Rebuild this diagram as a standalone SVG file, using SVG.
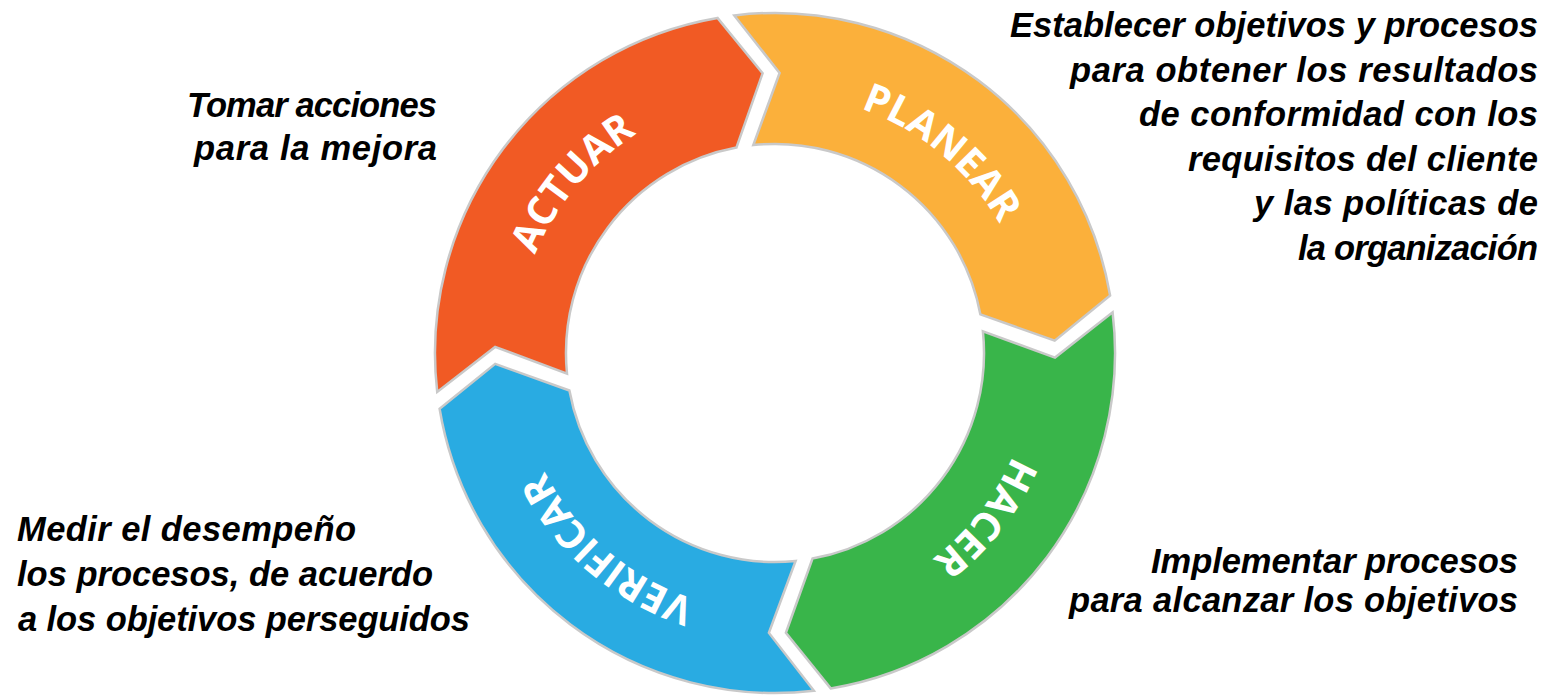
<svg xmlns="http://www.w3.org/2000/svg" width="1550" height="697" viewBox="0 0 1550 697">
<style>
.seg{stroke:#c9c9c9;stroke-width:2.5;stroke-linejoin:miter}
.lbl{font-family:"Open Sans","DejaVu Sans",sans-serif;font-weight:700;font-size:40px;fill:#ffffff}
.desc{font-family:"Liberation Sans",Arial,sans-serif;font-weight:700;font-style:italic;font-size:34.5px;fill:#000000}
.r{text-anchor:end}
</style>
<defs>
<path id="pActuar" d="M516.9,375.6 A259,259 0 0 1 752.4,95"/>
<path id="pPlanear" d="M751.1,95.1 A259,259 0 0 1 1032.9,329.1"/>
<path id="pHacer" d="M1032.1,321.4 A259,259 0 0 1 806.6,610.1"/>
<path id="pVerificar" d="M795.8,611.2 A259,259 0 0 1 516.8,373.8"/>
</defs>
<rect width="1550" height="697" fill="#ffffff"/>
<g id="connectors"></g>
<g id="actuar">
<path class="seg" fill="#F15A24" d="M437.2,391.9 A340,340 0 0 1 717.5,17.9 L762.6,73.3 L736.4,147.6 A209,209 0 0 0 567,373.6 L495.1,346.9 Z"/>
<text class="lbl"><textPath href="#pActuar" startOffset="50%" text-anchor="middle">ACTUAR</textPath></text>
</g>
<g id="planear">
<path class="seg" fill="#FBB03B" d="M734.3,15.4 A340,340 0 0 1 1110.1,295.5 L1054.7,340.6 L980.4,314.4 A209,209 0 0 0 753.3,145.1 L779.6,73 Z"/>
<text class="lbl"><textPath href="#pPlanear" startOffset="50%" text-anchor="middle">PLANEAR</textPath></text>
</g>
<g id="hacer">
<path class="seg" fill="#39B54A" d="M1112.6,312.3 A340,340 0 0 1 830.7,688.4 L785.9,632.8 L812.5,558.6 A209,209 0 0 0 982.9,331.3 L1055,357.6 Z"/>
<text class="lbl"><textPath href="#pHacer" startOffset="50%" text-anchor="middle">HACER</textPath></text>
</g>
<g id="verificar">
<path class="seg" fill="#29ABE2" d="M813.9,690.8 A340,340 0 0 1 439.6,408.7 L495.2,363.9 L569.4,390.5 A209,209 0 0 0 795.6,561 L768.9,632.9 Z"/>
<text class="lbl"><textPath href="#pVerificar" startOffset="50%" text-anchor="middle">VERIFICAR</textPath></text>
</g>
<g id="desc-planear">
<text class="desc r" x="1538" y="37" textLength="528" lengthAdjust="spacing">Establecer objetivos y procesos</text>
<text class="desc r" x="1538" y="81.6" textLength="468" lengthAdjust="spacing">para obtener los resultados</text>
<text class="desc r" x="1538" y="126.2" textLength="399" lengthAdjust="spacing">de conformidad con los</text>
<text class="desc r" x="1538" y="170.8" textLength="350" lengthAdjust="spacing">requisitos del cliente</text>
<text class="desc r" x="1538" y="215.4" textLength="284" lengthAdjust="spacing">y las políticas de</text>
<text class="desc r" x="1538" y="260" textLength="240" lengthAdjust="spacing">la organización</text>
</g>
<g id="desc-actuar">
<text class="desc r" x="437" y="117" textLength="250" lengthAdjust="spacing">Tomar acciones</text>
<text class="desc r" x="437" y="160" textLength="243" lengthAdjust="spacing">para la mejora</text>
</g>
<g id="desc-verificar">
<text class="desc" x="17" y="541" textLength="339" lengthAdjust="spacing">Medir el desempeño</text>
<text class="desc" x="17" y="586" textLength="416" lengthAdjust="spacing">los procesos, de acuerdo</text>
<text class="desc" x="18" y="631" textLength="452" lengthAdjust="spacing">a los objetivos perseguidos</text>
</g>
<g id="desc-hacer">
<text class="desc r" x="1518" y="573" textLength="367" lengthAdjust="spacing">Implementar procesos</text>
<text class="desc r" x="1518" y="612" textLength="449" lengthAdjust="spacing">para alcanzar los objetivos</text>
</g>
</svg>
